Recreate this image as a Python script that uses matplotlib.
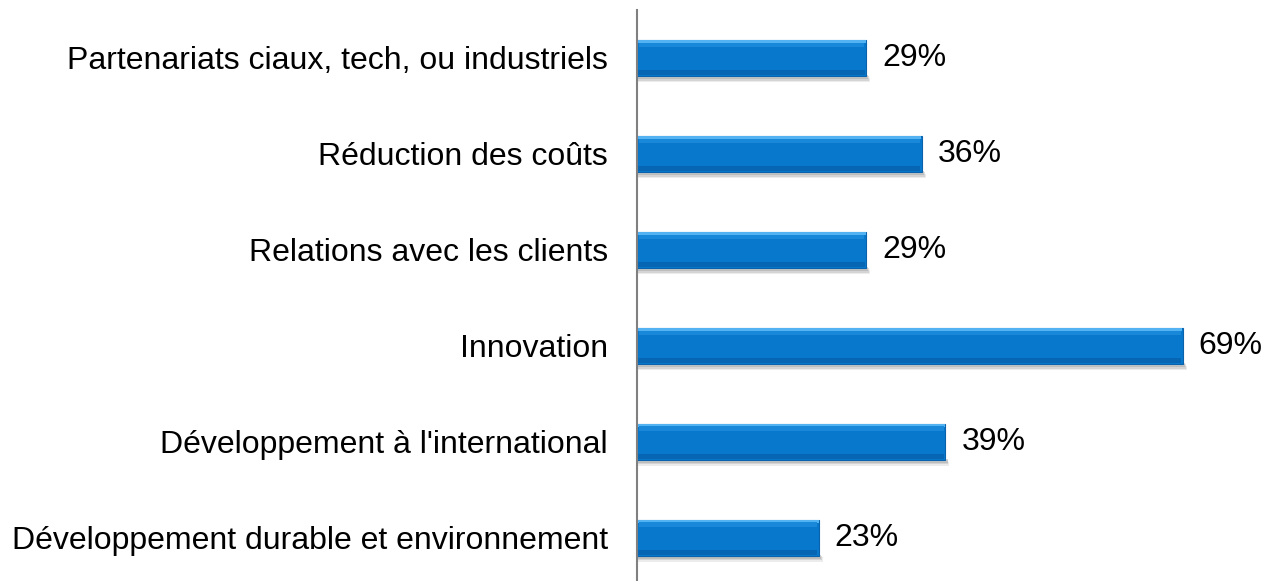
import matplotlib
matplotlib.use("Agg")
import matplotlib.pyplot as plt

categories = ["Partenariats ciaux, tech, ou industriels",
              "Réduction des coûts",
              "Relations avec les clients",
              "Innovation",
              "Développement à l'international",
              "Développement durable et environnement"]
values = [29, 36, 29, 69, 39, 23]
labels = ["29%", "36%", "29%", "69%", "39%", "23%"]

plt.rcParams['font.family'] = ['Liberation Sans', 'DejaVu Sans']

fig = plt.figure(figsize=[12.67, 5.81], dpi=100)
ax = fig.add_axes([637/1267, 0, 630/1267, 571/581])

pos = list(range(len(values)))
h = 0.375

# soft shadow under each bar
for k, a in enumerate([0.18, 0.28, 0.38]):
    ax.barh([p + h/2 + 0.012 + 0.014*(2-k) for p in pos], [v + 0.4 - 0.12*k for v in values],
            height=0.045, left=0.1, color='#999999', alpha=a, linewidth=0)

# main bars
ax.barh(pos, values, height=h, color='#0878CC', edgecolor='#0A62AA', linewidth=0.8)
# top highlight
ax.barh([p - h/2 + 0.015 for p in pos], [v - 0.1 for v in values], height=0.03,
        left=0.05, color='#52B2F2', linewidth=0)
ax.barh([p - h/2 + 0.05 for p in pos], [v - 0.5 for v in values], height=0.045,
        left=0.25, color='#1A88D8', linewidth=0)
# bottom darker band
ax.barh([p + h/2 - 0.035 for p in pos], [v - 0.3 for v in values], height=0.06,
        left=0.1, color='#0766B4', linewidth=0)

for p, v, t in zip(pos, values, labels):
    ax.text(v + 2.0, p, t, va='center', ha='left', fontsize=23, color='black')

ax.set_xlim(0, 630/7.91)
ax.set_ylim(5.45, -0.5)
ax.set_yticks(pos)
ax.set_yticklabels(categories, fontsize=23)
ax.tick_params(axis='y', length=0, pad=21)
ax.set_xticks([])
for s in ['top', 'right', 'bottom']:
    ax.spines[s].set_visible(False)
ax.spines['left'].set_color('#808080')
ax.spines['left'].set_linewidth(1.5)

fig.savefig('out.png', dpi=100)
